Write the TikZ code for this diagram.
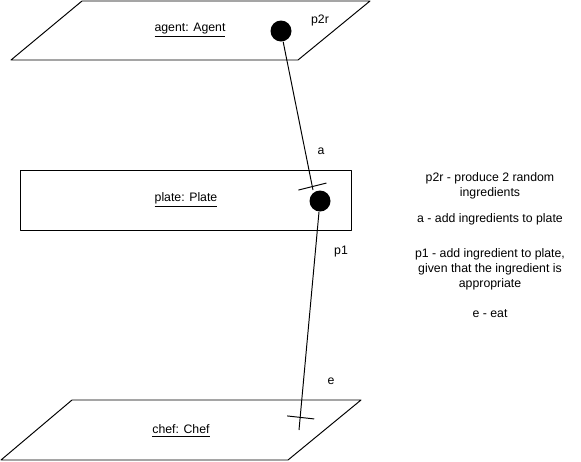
\documentclass[tikz,border=0pt]{standalone}
\usepackage{fontspec}
\setmainfont{Liberation Sans}
\begin{document}
\begin{tikzpicture}[x=0.02cm,y=-0.02cm,line join=round,line width=0.55pt,
	font=\fontsize{7pt}{8.6pt}\selectfont,
	dot/.style={circle,fill=black,inner sep=0pt,minimum size=0.42cm},
	lbl/.style={inner sep=0pt}]
	\useasboundingbox (0,0) rectangle (581,461);
	% objects
	\draw (82,1)--(370,1)--(298,60)--(11,60)--cycle;
	\node[lbl] (agent) at (190,30) {\underline{agent: Agent}};
	\draw (20,170) rectangle (351,230);
	\node[lbl] (plate) at (186,200) {\underline{plate: Plate}};
	\draw (72,400)--(361,400)--(288,460)--(1,460)--cycle;
	\node[lbl] (chef) at (181,431) {\underline{chef: Chef}};
	% ports
	\node[dot] (agentdot) at (281,31) {};
	\node[dot] (platedot) at (320,201) {};
	\coordinate (aend) at (313,190);
	\coordinate (eend) at (299,430);
	% connectors
	\draw (agentdot) -- (aend) coordinate[pos=0.98] (atick);
	\draw ([shift={(-14,3)}]atick) -- ([shift={(14,-4)}]atick);
	\draw (platedot) -- (eend) coordinate[pos=0.94] (etick);
	\draw ([shift={(-13,-1)}]etick) -- ([shift={(14,2)}]etick);
	\node[lbl] (p2r) at (320,20) {p2r};
	\node[lbl] (a) at (321,151) {a};
	\node[lbl] (p1) at (341,252) {p1};
	\node[lbl] (e) at (331,381) {e};
	% legend
	\node[lbl,align=center,anchor=north] (legend) at (490,172) {p2r - produce 2 random\\ingredients\\[6pt]
		a - add ingredients to plate\\[11.5pt]
		p1 - add ingredient to plate,\\given that the ingredient is\\appropriate\\[8.5pt]
		e - eat};
\end{tikzpicture}
\end{document}
